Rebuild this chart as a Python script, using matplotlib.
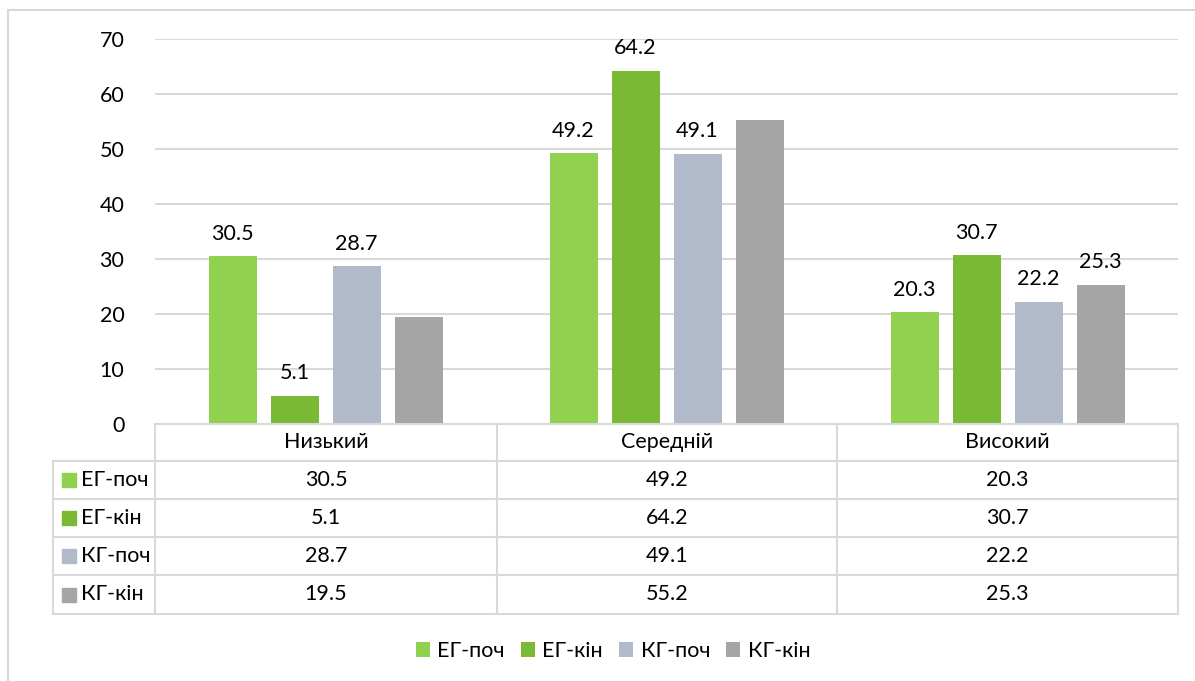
import matplotlib
matplotlib.use("Agg")
import matplotlib.pyplot as plt
from matplotlib.lines import Line2D
from matplotlib.patches import Rectangle
import numpy as np

categories = ["Низький", "Середній", "Високий"]
series_names = ["ЕГ-поч", "ЕГ-кін", "КГ-поч", "КГ-кін"]
eg_poch = [30.5, 49.2, 20.3]
eg_kin = [5.1, 64.2, 30.7]
kg_poch = [28.7, 49.1, 22.2]
kg_kin = [19.5, 55.2, 25.3]
series_values = [eg_poch, eg_kin, kg_poch, kg_kin]
# which bar labels are displayed (as in the reference)
show_labels = [[True, True, True], [True, True, True], [True, True, True], [False, False, True]]
yticks = [0, 10, 20, 30, 40, 50, 60, 70]

colors = ["#92D050", "#7AB934", "#B0BACA", "#A5A5A5"]
grid_c = "#D9D9D9"
FONT = "Lato"
FS = 15.5

W, H = 1195, 681
fig = plt.figure(figsize=(W / 100, H / 100), dpi=100)
fig.patch.set_facecolor("white")

def fx(px):
    return px / W

def fy(py):
    return 1 - py / H

# plot area in pixels
L, R, T, B = 155, 1178, 39, 424
ax = fig.add_axes([fx(L), fy(B), fx(R - L), (B - T) / H])
ax.set_xlim(-0.5, len(categories) - 0.5)
ax.set_ylim(0, 70)
for s in ax.spines.values():
    s.set_visible(False)
ax.set_yticks(yticks)
ax.set_yticklabels([str(t) for t in yticks], fontsize=FS, family=FONT)
ax.tick_params(axis="y", length=0, pad=22)
ax.set_xticks([])
ax.grid(axis="y", color=grid_c, linewidth=1.5)
ax.set_axisbelow(True)

slot = 62 / 341
bw = 48 / 341
x = np.arange(len(categories))
for i, (vals, c) in enumerate(zip(series_values, colors)):
    pos = x + (i - 1.5) * slot
    bars = ax.bar(pos, vals, width=bw, color=c, label=series_names[i], zorder=3)
    for j, (p, v) in enumerate(zip(pos, vals)):
        if show_labels[i][j]:
            ax.annotate(f"{v}", (p, v), xytext=(0, 9), textcoords="offset points",
                        ha="center", va="bottom", fontsize=FS, family=FONT)

# data table
col_edges = [155, 497, 837, 1178]
row_edges = [424, 461, 499, 537, 575, 614]
lbl_left = 53
lw = 1.5

def hline(y, x0, x1):
    fig.add_artist(Line2D([fx(x0), fx(x1)], [fy(y), fy(y)], color=grid_c, lw=lw))

def vline(xp, y0, y1):
    fig.add_artist(Line2D([fx(xp), fx(xp)], [fy(y0), fy(y1)], color=grid_c, lw=lw))

hline(row_edges[0], col_edges[0], col_edges[-1])
for y in row_edges[1:]:
    hline(y, lbl_left, col_edges[-1])
vline(lbl_left, row_edges[1], row_edges[-1])
for xe in col_edges:
    vline(xe, row_edges[0], row_edges[-1])

for k, cat in enumerate(categories):
    cx = (col_edges[k] + col_edges[k + 1]) / 2
    cy = (row_edges[0] + row_edges[1]) / 2
    fig.text(fx(cx), fy(cy), cat, ha="center", va="center", fontsize=FS, family=FONT)

for i, name in enumerate(series_names):
    cy = (row_edges[i + 1] + row_edges[i + 2]) / 2
    fig.add_artist(Rectangle((fx(62), fy(cy + 7)), fx(14), 14 / H, color=colors[i],
                             transform=fig.transFigure))
    fig.text(fx(81), fy(cy), name, ha="left", va="center", fontsize=FS, family=FONT)
    for k in range(len(categories)):
        cx = (col_edges[k] + col_edges[k + 1]) / 2
        fig.text(fx(cx), fy(cy), f"{series_values[i][k]}", ha="center", va="center",
                 fontsize=FS, family=FONT)

# legend
leg = fig.legend(loc="center", bbox_to_anchor=(fx(613), fy(651)), ncol=4, frameon=False,
                 prop={"family": FONT, "size": FS}, handlelength=0.65, handleheight=0.65,
                 handletextpad=0.35, columnspacing=0.75)

# outer chart border
fig.add_artist(Line2D([fx(8), fx(8)], [fy(10), 0], color=grid_c, lw=1.5))
fig.add_artist(Line2D([fx(8), 1], [fy(10), fy(10)], color=grid_c, lw=1.5))

fig.savefig("out.png", dpi=100)
